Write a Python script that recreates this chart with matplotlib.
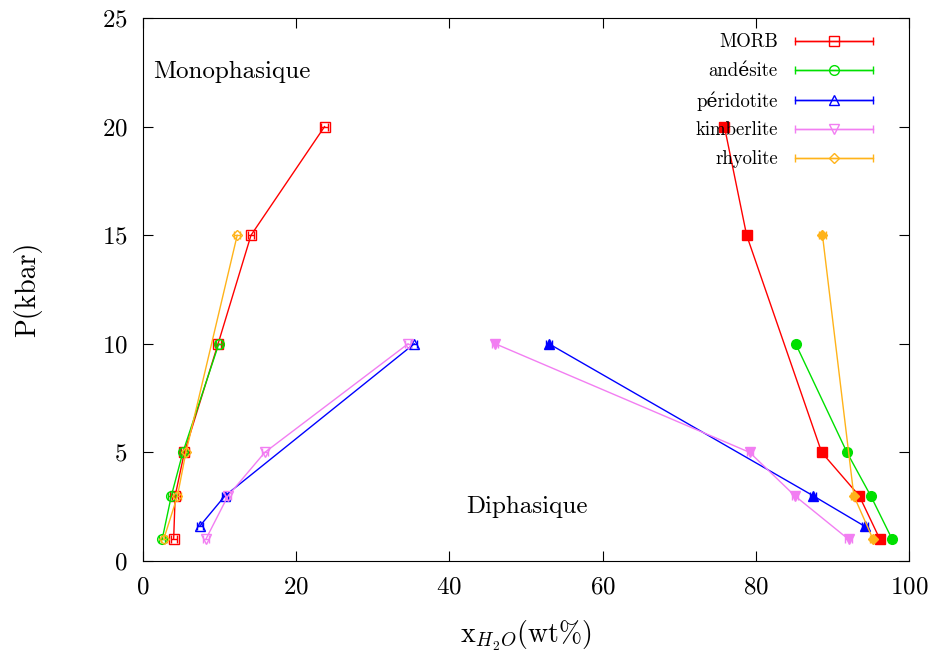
import matplotlib; matplotlib.use("Agg")
import matplotlib.pyplot as plt
from matplotlib.legend_handler import HandlerErrorbar

plt.rcParams["font.family"] = ["cmr10", "DejaVu Serif"]
plt.rcParams["mathtext.fontset"] = "cm"
plt.rcParams["axes.formatter.use_mathtext"] = True

# pressions (kbar) et fractions d'eau (wt%) lues sur la figure
# branche gauche (liquide riche en silicate) / branche droite (fluide riche en eau)
morb_P_l = [1, 3, 5, 10, 15, 20]
morb_x_l = [4.0, 4.2, 5.4, 9.8, 14.1, 23.7]
morb_P_r = [1, 3, 5, 15, 20]
morb_x_r = [96.2, 93.5, 88.6, 78.8, 75.9]

and_P_l = [1, 3, 5, 10]
and_x_l = [2.5, 3.7, 5.2, 9.9]
and_P_r = [1, 3, 5, 10]
and_x_r = [97.8, 95.0, 91.9, 85.2]

per_P_l = [1.6, 3, 10]
per_x_l = [7.4, 10.7, 35.4]
per_P_r = [1.6, 3, 10]
per_x_r = [94.2, 87.5, 53.0]

kim_P_l = [1, 3, 5, 10]
kim_x_l = [8.2, 11.1, 15.9, 34.6]
kim_P_r = [1, 3, 5, 10]
kim_x_r = [92.1, 85.1, 79.2, 46.0]

rhy_P_l = [1, 3, 5, 15]
rhy_x_l = [2.7, 4.5, 5.6, 12.3]
rhy_P_r = [1, 3, 15]
rhy_x_r = [95.3, 92.8, 88.7]

series = [
    ("MORB", "#ff0000", "s", morb_x_l, morb_P_l, morb_x_r, morb_P_r),
    ("andésite", "#00e000", "o", and_x_l, and_P_l, and_x_r, and_P_r),
    ("péridotite", "#0000ff", "^", per_x_l, per_P_l, per_x_r, per_P_r),
    ("kimberlite", "#f27ef2", "v", kim_x_l, kim_P_l, kim_x_r, kim_P_r),
    ("rhyolite", "#ffb31a", "D", rhy_x_l, rhy_P_l, rhy_x_r, rhy_P_r),
]

fig = plt.figure(figsize=(9.31, 6.53), dpi=100)
ax = fig.add_axes([0.1536, 0.1409, 0.8228, 0.8315])

for name, c, m, xl, pl, xr, pr in series:
    ms = 7 if m != "D" else 5.5
    ax.errorbar(xl, pl, xerr=0.4, color=c, marker=m, ms=ms, mfc="none", mec=c,
                lw=1, elinewidth=1, capsize=3, label=name)
    ax.errorbar(xr, pr, xerr=0.4, color=c, marker=m, ms=ms, mfc=c, mec=c,
                lw=1, elinewidth=1, capsize=3)

ax.set_xlim(0, 100); ax.set_ylim(0, 25)
ax.set_xticks(range(0, 101, 20)); ax.set_yticks(range(0, 26, 5))
ax.tick_params(direction="in", top=True, right=True, length=7, labelsize=18, pad=11)
ax.set_xlabel(r"x$_{H_2O}$(wt%)", fontsize=20, labelpad=15)
ax.set_ylabel("P(kbar)", fontsize=20, labelpad=43)

ax.text(1.3, 22.5, "Monophasique", fontsize=18, va="center")
ax.text(50.1, 2.5, "Diphasique", fontsize=18, va="center", ha="center")

# legende a la gnuplot : texte a gauche, echantillon a droite
leg = ax.legend(loc="upper right", bbox_to_anchor=(1, 1.037), frameon=False,
                markerfirst=False, fontsize=13.5,
                handlelength=4.2, handletextpad=0.9, labelspacing=0.58,
                borderaxespad=1.5, numpoints=1,
                handler_map={type(ax.containers[0]): HandlerErrorbar(xerr_size=2.1)})
for t in leg.get_texts():
    t.set_ha("right")

fig.savefig("out.png", dpi=100)
